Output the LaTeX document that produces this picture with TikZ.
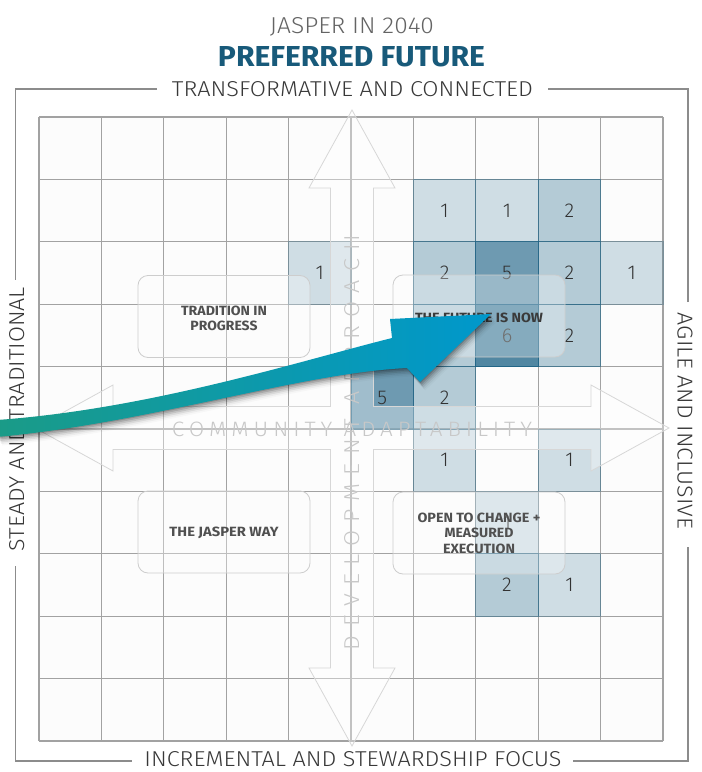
\documentclass[tikz,border=0pt]{standalone}
\usepackage{fontspec}
\usepackage{graphicx}
\setmainfont{Fira Sans}
\newfontfamily\jlight{Fira Sans Light}
\newcommand\jfit[3]{\resizebox{#1bp}{#2bp}{#3}}
\definecolor{cellbase}{RGB}{30,100,135}
\definecolor{gridgray}{RGB}{162,162,162}
\definecolor{framegray}{RGB}{140,140,140}
\definecolor{axistext}{RGB}{56,56,56}
\definecolor{titlegray}{RGB}{100,100,100}
\definecolor{titleblue}{RGB}{24,90,122}
\definecolor{boxtext}{RGB}{80,80,80}
\definecolor{boxtextdark}{RGB}{58,58,58}
\definecolor{faintgray}{RGB}{200,200,200}
\definecolor{numtext}{RGB}{50,50,50}
\definecolor{crossline}{RGB}{215,215,215}
\definecolor{boxline}{RGB}{205,205,205}
\definecolor{gridbg}{RGB}{252,252,252}
\definecolor{arrowgreen}{RGB}{26,155,135}
\definecolor{arrowmid}{RGB}{10,155,172}
\definecolor{arrowblue}{RGB}{0,152,204}
\def\jarrowpath{(-3,420) -- (-3,437) .. controls (150,423) and (300,373) .. (407,368) -- (420,382) -- (491,314) -- (390,319) -- (392,338) .. controls (300,361) and (150,409) .. (-3,420) -- cycle}
\begin{document}
\begin{tikzpicture}[x=1bp,y=-1bp,
  gridline/.style={draw=gridgray,line width=1.2bp},
  frameline/.style={draw=framegray,line width=1.3bp},
  cellfill/.style 2 args={fill=cellbase,fill opacity=#1,draw=cellbase,draw opacity=#2,line width=1bp},
  num/.style={inner sep=0pt,font=\jlight\fontsize{20bp}{24bp}\selectfont,text=numtext},
  quadbox/.style={draw=boxline,line width=0.8bp,fill=white,fill opacity=0.3,rounded corners=10bp,minimum width=172bp,minimum height=82bp,inner sep=0pt},
  quadlabel/.style={inner sep=0pt,align=center,font=\bfseries\fontsize{12bp}{15.5bp}\selectfont,text=boxtext},
  axislabel/.style={inner sep=0pt,font=\jlight,text=axistext},
  faintlabel/.style={inner sep=0pt,font=\jlight,text=faintgray},
  crossshape/.style={draw=crossline,line width=0.8bp,fill=white,fill opacity=0.35,line join=miter}
]
\useasboundingbox (0,0) rectangle (702,772);
\fill[white] (0,0) rectangle (702,772);

% titles
\node[inner sep=0pt,text=titlegray,font=\jlight] (jtitle) at (352,27) {\jfit{164}{16}{JASPER IN 2040}};
\node[inner sep=0pt,text=titleblue,font=\bfseries] (ptitle) at (351.5,57) {\jfit{267}{20}{PREFERRED FUTURE}};

% grid
\fill[gridbg] (39,117) rectangle (663,741);
\foreach \i in {0,...,10}{
  \draw[gridline] (39+62.4*\i,117) -- (39+62.4*\i,741);
  \draw[gridline] (39,117+62.4*\i) -- (663,117+62.4*\i);
}

% shaded cells
\foreach \c/\r/\o/\d/\n in {6/1/0.2/0.3/1, 7/1/0.2/0.3/1, 8/1/0.32/0.45/2,
  4/2/0.2/0.3/1, 6/2/0.32/0.45/2, 7/2/0.64/0.75/5, 8/2/0.32/0.45/2, 9/2/0.2/0.3/1,
  7/3/0.77/0.85/6, 8/3/0.32/0.45/2,
  5/4/0.64/0.75/5, 6/4/0.32/0.45/2,
  6/5/0.2/0.3/1, 8/5/0.2/0.3/1,
  7/6/0.2/0.3/1,
  7/7/0.32/0.45/2, 8/7/0.2/0.3/1}{
  \path[cellfill={\o}{\d}] (39+62.4*\c,117+62.4*\r) rectangle ++(62.4,62.4);
  \node[num] (n\c-\r) at (39+62.4*\c+31.2,117+62.4*\r+31.2) {\n};
}
\path[cellfill={0.32}{0.45}] (39+62.4*6,117+62.4*3) rectangle ++(62.4,62.4);

% cross of double arrows
\path[crossshape] (352,110) -- (395,188) -- (373.5,188) -- (373.5,406.5) -- (591,406.5) -- (591,385)
  -- (669,428) -- (591,471) -- (591,449.5) -- (373.5,449.5) -- (373.5,668) -- (395,668)
  -- (352,746) -- (309,668) -- (330.5,668) -- (330.5,449.5) -- (113,449.5) -- (113,471)
  -- (35,428) -- (113,385) -- (113,406.5) -- (330.5,406.5) -- (330.5,188) -- (309,188) -- cycle;

\node[faintlabel] (commlab) at (352,429.5) {\jfit{360}{14.5}{\addfontfeature{LetterSpace=22}COMMUNITY ADAPTABILITY}};
\node[faintlabel,rotate=90] (devlab) at (352.5,442.5) {\jfit{415}{15}{\addfontfeature{LetterSpace=36}DEVELOPMENT APPROACH}};

% quadrant boxes
\node[quadbox] (boxtl) at (224,316.5) {};
\node[quadbox] (boxtr) at (479,316) {};
\node[quadbox] (boxbl) at (224,532) {};
\node[quadbox] (boxbr) at (479,533) {};
\node[quadlabel] (labtl) at (224,318.3) {\jfit{86}{9.5}{TRADITION IN}\\\jfit{67}{9.5}{PROGRESS}};
\node[quadlabel,text=boxtextdark] (labtr) at (479,318) {\jfit{128}{9.5}{THE FUTURE IS NOW}};
\node[quadlabel] (labbl) at (224,533) {\jfit{109}{9.5}{THE JASPER WAY}};
\node[quadlabel] (labbr) at (479,533.3) {\jfit{123}{9.5}{OPEN TO CHANGE +}\\\jfit{69}{9.5}{MEASURED}\\\jfit{72}{9.5}{EXECUTION}};

% frame and axis labels
\node[axislabel] (toplab) at (352.5,89.5) {\jfit{361}{15}{TRANSFORMATIVE AND CONNECTED}};
\node[axislabel] (botlab) at (353,759) {\jfit{417}{15}{INCREMENTAL AND STEWARDSHIP FOCUS}};
\node[axislabel,rotate=90] (leftlab) at (17.5,419) {\jfit{264}{15}{STEADY AND TRADITIONAL}};
\node[axislabel,rotate=-90] (rightlab) at (685,421) {\jfit{216}{15}{AGILE AND INCLUSIVE}};
\draw[frameline] (157,89) -- (15.5,89) -- (15.5,280);
\draw[frameline] (15.5,566) -- (15.5,761) -- (132,761);
\draw[frameline] (573,761) -- (688,761) -- (688,547);
\draw[frameline] (688,302) -- (688,89) -- (548,89);

% big curved arrow with soft shadow
\foreach \s/\o in {1/0.16, 2.5/0.13, 4/0.10, 5.5/0.07, 7/0.045, 8.5/0.025}{
  \fill[black,opacity=\o,shift={(0.6*\s,\s)}] \jarrowpath;
}
\shade[left color=arrowgreen,middle color=arrowmid,right color=arrowblue] \jarrowpath;
\end{tikzpicture}
\end{document}
